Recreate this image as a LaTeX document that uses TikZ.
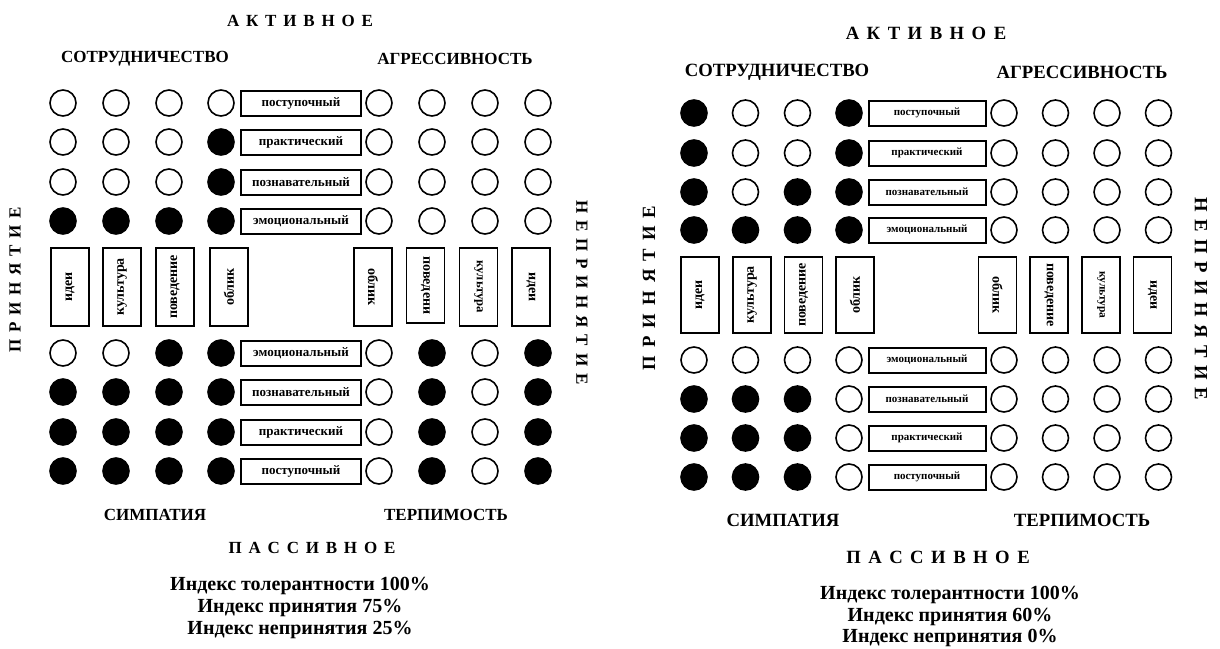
\documentclass[tikz,border=0pt]{standalone}
\usepackage{fontspec}
\setmainfont{Liberation Serif}
\newcommand\gp{\hspace{0.4em}}
\begin{document}
\begin{tikzpicture}[x=1pt,y=-1pt,
  dot/.style={circle, draw, line width=1.6pt, minimum size=26pt, inner sep=0pt},
  f0/.style={dot, fill=white},
  f1/.style={dot, fill=black},
  hbox/.style={draw, line width=2pt, minimum width=120pt, minimum height=25pt, inner sep=0pt, font=\fontsize{13}{14}\selectfont\bfseries},
  vbox/.style={draw, line width=1.8pt, minimum width=78pt, minimum height=38pt, inner sep=0pt, font=\fontsize{14}{15}\selectfont\bfseries},
  head/.style={font=\fontsize{17}{19}\selectfont\bfseries},
  headR/.style={font=\fontsize{18.7}{20}\selectfont\bfseries},
  idx/.style={font=\fontsize{20}{22.3}\selectfont\bfseries, align=center}
]
\useasboundingbox (0,0) rectangle (1220,648);

% ---------------- left panel ----------------
\def\LX{{63,116,169,221,379,432,485,538}}
\foreach \y/\lab/\p [count=\r] in {
  103/поступочный/{0,0,0,0,0,0,0,0},
  142/практический/{0,0,0,1,0,0,0,0},
  182/познавательный/{0,0,0,1,0,0,0,0},
  221/эмоциональный/{1,1,1,1,0,0,0,0},
  353/эмоциональный/{0,0,1,1,0,1,0,1},
  392/познавательный/{1,1,1,1,0,1,0,1},
  432/практический/{1,1,1,1,0,1,0,1},
  471/поступочный/{1,1,1,1,0,1,0,1}}{
  \node[hbox] (La\r) at (301,\y) {\lab};
  \foreach \f [count=\i] in \p {
    \pgfmathsetmacro\xx{\LX[\i-1]}
    \node[f\f] (La\r c\i) at (\xx,\y) {};
  }
}
\node[vbox, rotate=90] (Lv1) at (70,287) {идеи};
\node[vbox, rotate=90] (Lv2) at (122,287) {культура};
\node[vbox, rotate=90] (Lv3) at (175,287) {поведение};
\node[vbox, rotate=90] (Lv4) at (229,287) {облик};
\node[vbox, rotate=-90] (Lv5) at (373,287) {облик};
\node[vbox, rotate=-90, minimum width=75pt] (Lv6) at (425.5,285.5) {поведени};
\node[vbox, rotate=-90, font=\fontsize{12.7}{14}\selectfont\bfseries] (Lv7) at (478.5,287) {культура};
\node[vbox, rotate=-90] (Lv8) at (531,287) {идеи};

\node[head] (La) at (300,21) {А\gp К\gp Т\gp И\gp В\gp Н\gp О\gp Е};
\node[head] (Lco) at (145,59) {СОТРУДНИЧЕСТВО};
\node[head] (Lag) at (455,59) {АГРЕССИВНОСТЬ};
\node[head, rotate=90] (Lpr) at (15,280) {П\gp Р\gp И\gp Н\gp Я\gp Т\gp И\gp Е};
\node[head, rotate=-90] (Lne) at (582,292.5) {Н\gp Е\gp П\gp Р\gp И\gp Н\gp Я\gp Т\gp И\gp Е};
\node[head] (Lsi) at (155,515) {СИМПАТИЯ};
\node[head] (Lte) at (446,515) {ТЕРПИМОСТЬ};
\node[head] (Lpa) at (312,548) {П\gp А\gp С\gp С\gp И\gp В\gp Н\gp О\gp Е};
\node[idx] (Lidx) at (300,608) {Индекс толерантности 100\%\\Индекс принятия 75\%\\Индекс непринятия 25\%};

% ---------------- right panel ----------------
\def\RX{{694,745.5,797.5,849,1004,1055.5,1107,1158.5}}
\foreach \y/\lab/\p [count=\r] in {
  113/поступочный/{1,0,0,1,0,0,0,0},
  153/практический/{1,0,0,1,0,0,0,0},
  192/познавательный/{1,0,1,1,0,0,0,0},
  230/эмоциональный/{1,1,1,1,0,0,0,0},
  360/эмоциональный/{0,0,0,0,0,0,0,0},
  399/познавательный/{1,1,1,0,0,0,0,0},
  438/практический/{1,1,1,0,0,0,0,0},
  477/поступочный/{1,1,1,0,0,0,0,0}}{
  \node[hbox, minimum width=117pt, font=\fontsize{11}{12}\selectfont\bfseries] (Ra\r) at (927,\y) {\lab};
  \foreach \f [count=\i] in \p {
    \pgfmathsetmacro\xx{\RX[\i-1]}
    \node[f\f] (Ra\r c\i) at (\xx,\y) {};
  }
}
\node[vbox, rotate=90, minimum width=76pt] (Rv1) at (700,295) {идеи};
\node[vbox, rotate=90, minimum width=76pt] (Rv2) at (752,295) {культура};
\node[vbox, rotate=90, minimum width=76pt] (Rv3) at (803.5,295) {поведение};
\node[vbox, rotate=90, minimum width=76pt] (Rv4) at (855,295) {облик};
\node[vbox, rotate=-90, minimum width=76pt] (Rv5) at (997.5,295) {облик};
\node[vbox, rotate=-90, minimum width=76pt] (Rv6) at (1049,295) {поведение};
\node[vbox, rotate=-90, minimum width=76pt, font=\fontsize{11.5}{12}\selectfont\bfseries] (Rv7) at (1101,295) {культура};
\node[vbox, rotate=-90, minimum width=76pt] (Rv8) at (1152.5,295) {идеи};

\node[headR] (Ra) at (926,33) {А\gp К\gp Т\gp И\gp В\gp Н\gp О\gp Е};
\node[headR] (Rco) at (777,72) {СОТРУДНИЧЕСТВО};
\node[headR] (Rag) at (1082,72) {АГРЕССИВНОСТЬ};
\node[headR, rotate=90] (Rpr) at (649,288) {П\hspace{0.43em}Р\hspace{0.43em}И\hspace{0.43em}Н\hspace{0.43em}Я\hspace{0.43em}Т\hspace{0.43em}И\hspace{0.43em}Е};
\node[headR, rotate=-90] (Rne) at (1201,299) {Н\gp Е\gp П\gp Р\gp И\gp Н\gp Я\gp Т\gp И\gp Е};
\node[headR] (Rsi) at (783,520) {СИМПАТИЯ};
\node[headR] (Rte) at (1082,520) {ТЕРПИМОСТЬ};
\node[headR] (Rpa) at (938,557) {П\gp А\gp С\gp С\gp И\gp В\gp Н\gp О\gp Е};
\node[idx, font=\fontsize{20}{21.5}\selectfont\bfseries] (Ridx) at (950,616.5) {Индекс толерантности 100\%\\Индекс принятия 60\%\\Индекс непринятия 0\%};
\end{tikzpicture}
\end{document}
